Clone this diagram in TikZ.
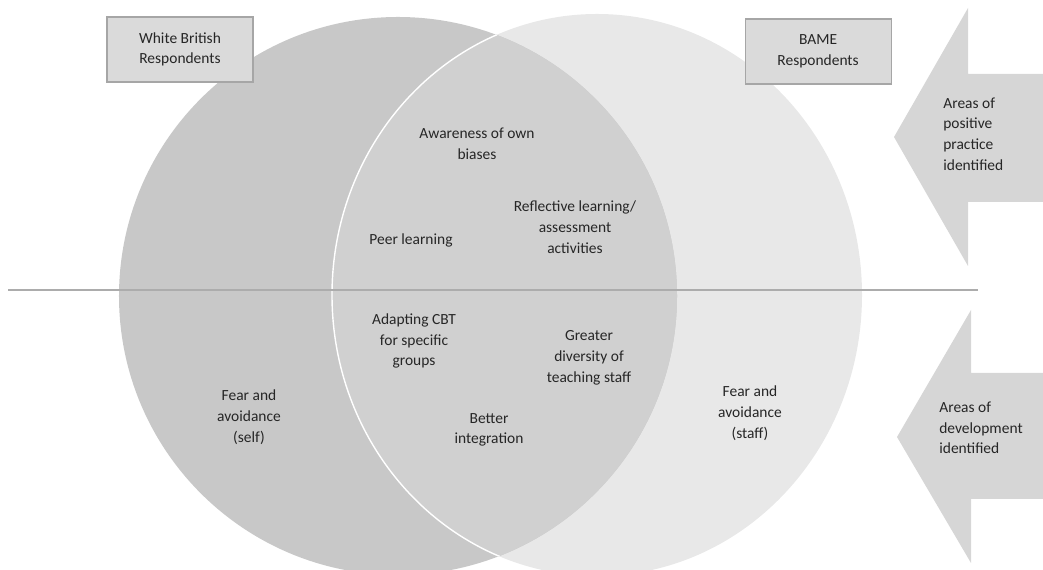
\documentclass[tikz,border=0pt]{standalone}
\usepackage{fontspec}
\setmainfont{Carlito}
\usetikzlibrary{positioning}

\definecolor{wbgrey}{gray}{0.785}
\definecolor{bamegrey}{gray}{0.91}
\definecolor{bothgrey}{gray}{0.815}
\definecolor{boxgrey}{gray}{0.855}
\definecolor{arrowgrey}{gray}{0.84}
\definecolor{txtgrey}{gray}{0.15}

\tikzset{
  lbl/.style={align=center, text=txtgrey, inner sep=0pt,
    font=\fontsize{8.8}{11.8}\selectfont},
  resp/.style={lbl, draw=gray!70, fill=boxgrey, line width=0.6pt,
    minimum width=29.2mm, minimum height=13mm},
  area/.style={lbl, align=left, anchor=west},
}

\begin{document}
\begin{tikzpicture}[x=0.2mm, y=-0.2mm]
\useasboundingbox (0,0) rectangle (1043,570);

\fill[bamegrey] (597,295) ellipse [x radius=53mm, y radius=56.2mm];
\fill[wbgrey] (398,296) ellipse [x radius=55.8mm, y radius=55.8mm];
\begin{scope}
  \clip (398,296) ellipse [x radius=55.8mm, y radius=55.8mm];
  \fill[bothgrey] (597,295) ellipse [x radius=53mm, y radius=56.2mm];
  \draw[white, line width=0.8pt] (597,295) ellipse [x radius=53mm, y radius=56.2mm];
\end{scope}

\fill[arrowgrey] (1043,74) -- (968,74) -- (968,8) -- (894,137) -- (968,266)
  -- (968,202) -- (1043,202) -- cycle;
\fill[arrowgrey] (1043,373) -- (971,373) -- (971,310) -- (897,437) -- (971,563)
  -- (971,499) -- (1043,499) -- cycle;

\coordinate (lft) at (8,290);
\coordinate (rgt) at (978,290);
\draw[gray!65, line width=0.7pt] (lft) -- (rgt);

\node[resp] (wbr) at (180,49.5) {White British\\Respondents};
\node[resp, right=98.2mm of wbr, yshift=-0.4mm] (bame) {BAME\\Respondents};

\node[lbl] (aware) at (477,144) {Awareness of own\\biases};
\node[lbl] (peer) at (411,240) {Peer learning};
\node[lbl] (refl) at (575,227) {Reflective learning/\\assessment\\activities};

\node[lbl] (cbt) at (414,341) {Adapting CBT\\for specific\\groups};
\node[lbl] (div) at (589,358) {Greater\\diversity of\\teaching staff};
\node[lbl] (integ) at (489,430) {Better\\integration};
\node[lbl] (fself) at (249,417) {Fear and\\avoidance\\(self)};
\node[lbl] (fstaff) at (750,413) {Fear and\\avoidance\\(staff)};

\node[area] (pos) at (943,134) {Areas of\\positive\\practice\\identified};
\node[area] (dev) at (939,428) {Areas of\\development\\identified};

\end{tikzpicture}
\end{document}
